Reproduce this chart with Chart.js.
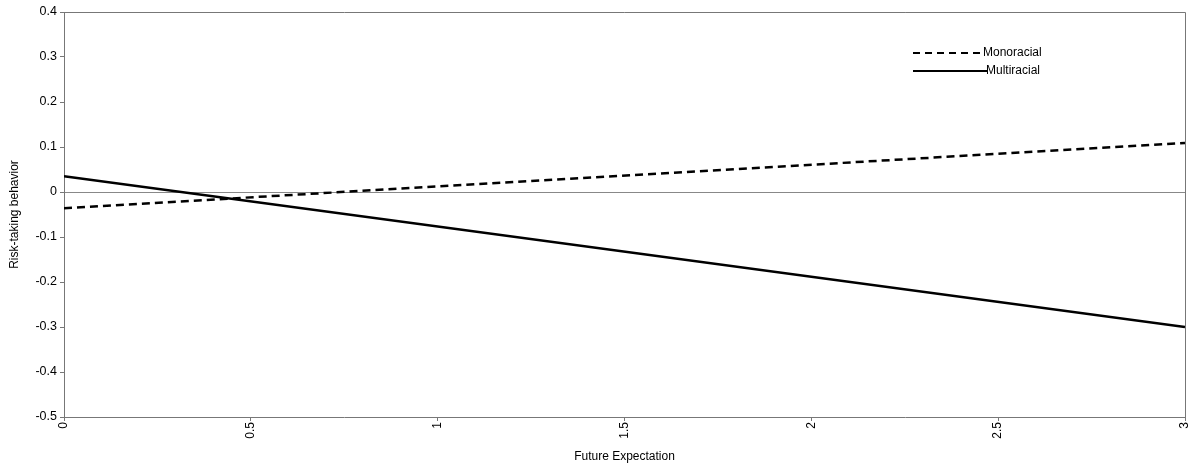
<!DOCTYPE html>
<html>
<head>
<meta charset="utf-8">
<script src="https://cdn.jsdelivr.net/npm/chart.js@4/dist/chart.umd.min.js"></script>
<style>
    html, body { margin: 0; padding: 0; background: #fff; }
    #wrap { position: relative; width: 1195px; height: 466px; }
</style>
</head>
<body>
<div id="wrap"><canvas id="chart"></canvas></div>
<script>
    // ------------------------------------------------------------------
    // Data
    // ------------------------------------------------------------------
    var xValues = [0, 3];
    var monoracial = [-0.036, 0.109];
    var multiracial = [0.035, -0.300];
    var seriesNames = ['Monoracial', 'Multiracial'];

    var FONT = '"Liberation Sans", Arial, sans-serif';
    var AXIS_COLOR = '#777';

    function toPoints(ys) {
        return xValues.map(function (x, i) { return { x: x, y: ys[i] }; });
    }

    function fmt(v) { return String(Number(v.toFixed(1))); }

    // Frame round the plot area + in-plot legend
    var framePlugin = {
        id: 'frame',
        afterDraw: function (chart) {
            var ctx = chart.ctx;
            var a = chart.chartArea;
            ctx.save();
            ctx.strokeStyle = AXIS_COLOR;
            ctx.lineWidth = 1;
            ctx.beginPath();
            ctx.moveTo(a.left, a.top + 0.5);
            ctx.lineTo(a.right + 0.5, a.top + 0.5);
            ctx.lineTo(a.right + 0.5, a.bottom);
            ctx.stroke();

            // legend
            var lx = a.left + 849, ly = a.top + 41;
            ctx.strokeStyle = '#000';
            ctx.lineWidth = 2;
            ctx.setLineDash([7, 5]);
            ctx.beginPath();
            ctx.moveTo(lx, ly);
            ctx.lineTo(lx + 67, ly);
            ctx.stroke();
            ctx.setLineDash([]);
            ctx.beginPath();
            ctx.moveTo(lx, ly + 18);
            ctx.lineTo(lx + 74, ly + 18);
            ctx.stroke();
            ctx.fillStyle = '#000';
            ctx.font = '12px ' + FONT;
            ctx.textBaseline = 'middle';
            ctx.fillText(seriesNames[0], lx + 70, ly);
            ctx.fillText(seriesNames[1], lx + 73, ly + 18);
            ctx.restore();
        }
    };

    Chart.defaults.font.family = FONT;
    Chart.defaults.font.size = 12;
    Chart.defaults.color = '#000';

    new Chart(document.getElementById('chart'), {
        type: 'line',
        data: {
            datasets: [{
                label: seriesNames[0],
                data: toPoints(monoracial),
                borderColor: '#000',
                borderWidth: 2.5,
                borderDash: [8, 5],
                pointRadius: 0,
                fill: false
            }, {
                label: seriesNames[1],
                data: toPoints(multiracial),
                borderColor: '#000',
                borderWidth: 2.5,
                pointRadius: 0,
                fill: false
            }]
        },
        options: {
            responsive: true,
            maintainAspectRatio: false,
            animation: false,
            layout: { padding: { top: 12, right: 10, left: 0, bottom: 0 } },
            plugins: {
                legend: { display: false },
                tooltip: { enabled: false }
            },
            scales: {
                x: {
                    type: 'linear',
                    min: 0,
                    max: 3,
                    afterFit: function (s) {
                        s.height = 49;
                        s.paddingLeft = 0;
                        s.paddingRight = 0;
                    },
                    border: { color: AXIS_COLOR },
                    grid: { drawOnChartArea: false, tickLength: 4, tickColor: AXIS_COLOR },
                    ticks: {
                        stepSize: 0.5,
                        minRotation: 90,
                        maxRotation: 90,
                        padding: 1,
                        font: { size: 12 },
                        callback: fmt
                    },
                    title: {
                        display: true,
                        text: 'Future Expectation',
                        font: { size: 12 },
                        padding: { top: 0, bottom: 2 }
                    }
                },
                y: {
                    min: -0.5,
                    max: 0.4,
                    afterFit: function (s) {
                        s.width = 64;
                        s.paddingTop = 0;
                        s.paddingBottom = 0;
                    },
                    border: { color: AXIS_COLOR },
                    grid: {
                        drawOnChartArea: true,
                        tickLength: 4,
                        tickColor: AXIS_COLOR,
                        color: function (c) { return c.tick && Math.abs(c.tick.value) < 1e-9 ? '#888' : 'rgba(0,0,0,0)'; }
                    },
                    ticks: {
                        stepSize: 0.1,
                        padding: 3,
                        font: { size: 12.5 },
                        callback: fmt
                    },
                    title: {
                        display: true,
                        text: 'Risk-taking behavior',
                        font: { size: 12 },
                        padding: { top: 7, bottom: 0 }
                    }
                }
            }
        },
        plugins: [framePlugin]
    });
</script>
</body>
</html>
